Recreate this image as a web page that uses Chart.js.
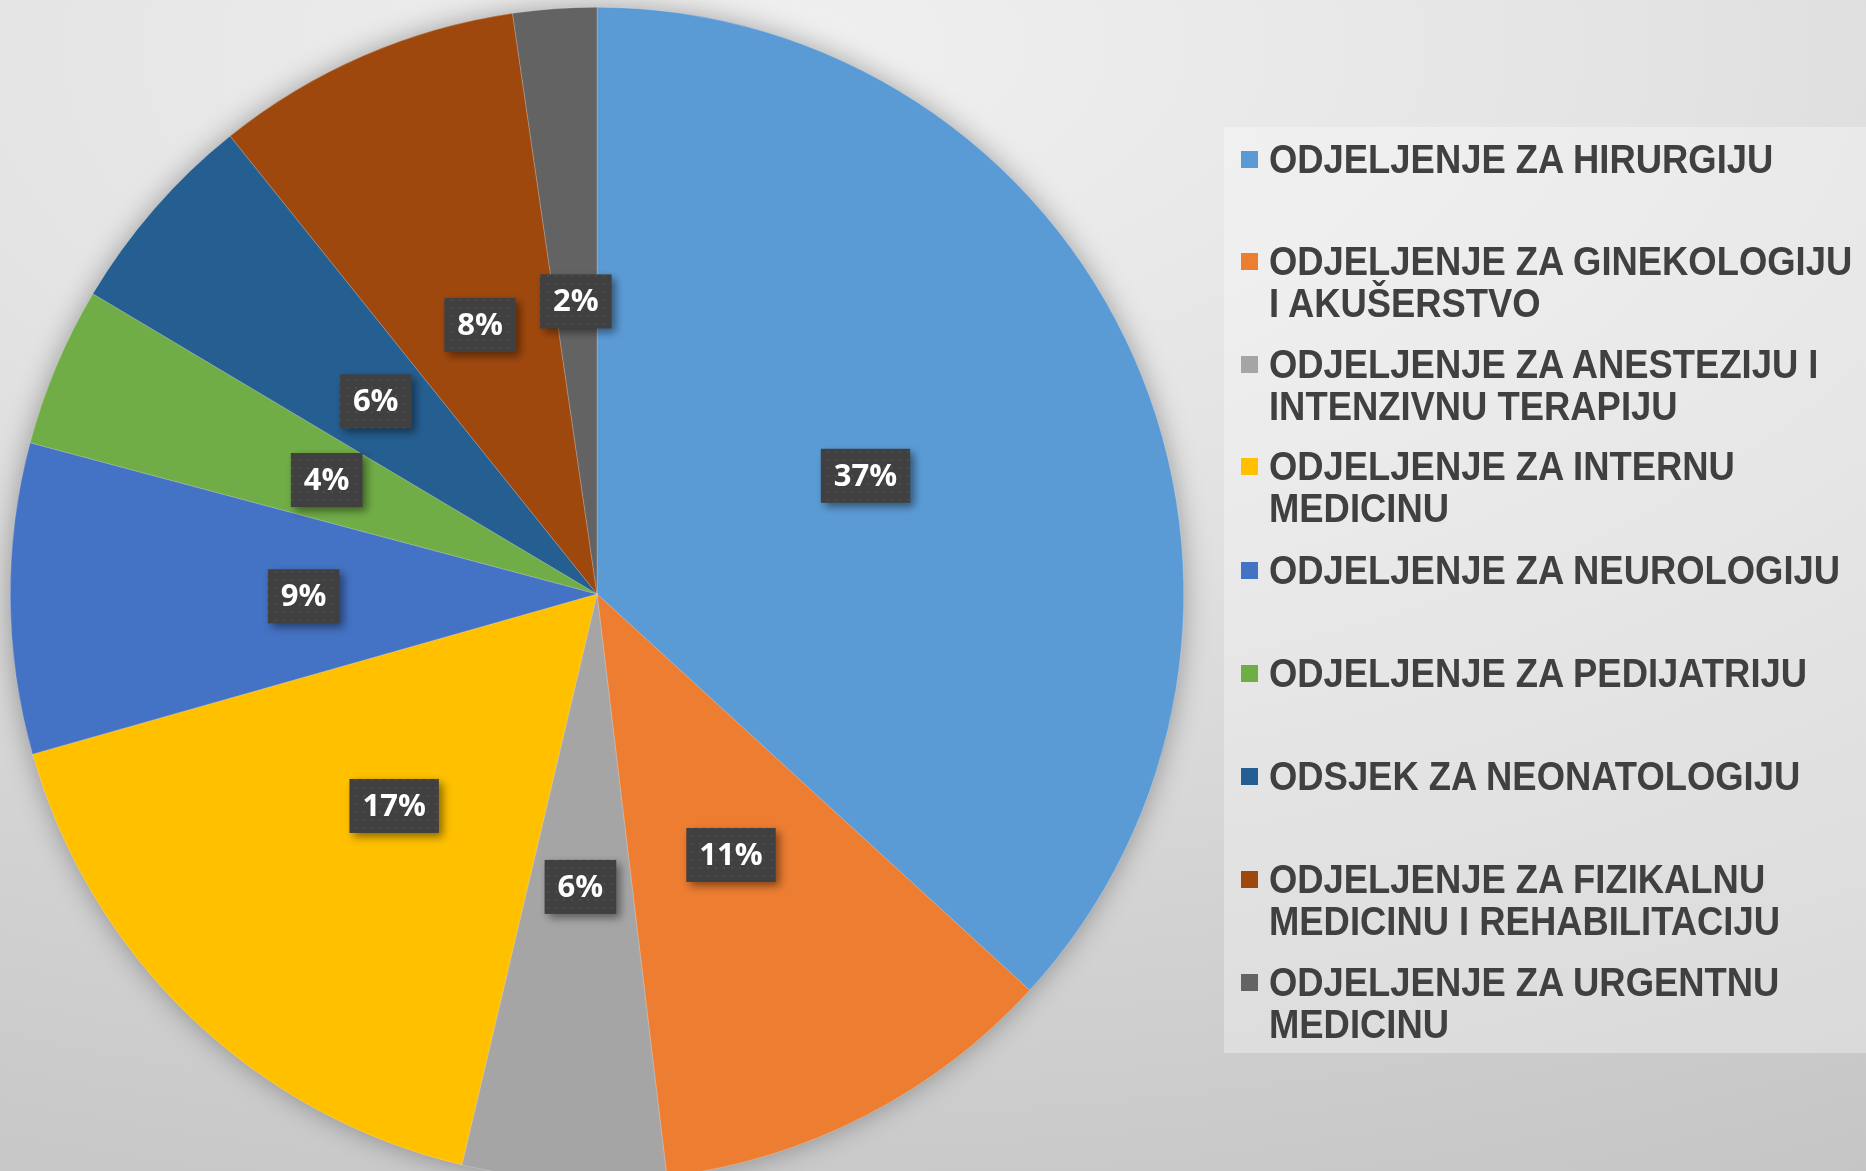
<!DOCTYPE html>
<html>
<head>
<meta charset="utf-8">
<script src="https://cdn.jsdelivr.net/npm/chart.js@4.4.1/dist/chart.umd.min.js"></script>
<style>
    html, body {
        margin: 0;
        padding: 0;
        width: 1866px;
        height: 1171px;
        overflow: hidden;
    }
    body {
        background: radial-gradient(ellipse 130% 110% at 42% 4%, #f0f0f0 0%, #e4e4e4 35%, #d2d2d2 70%, #c4c4c4 100%);
        position: relative;
    }
    #wrap {
        position: absolute;
        left: 0;
        top: 0;
        width: 1866px;
        height: 1190px;
    }
    #legendBox {
        position: absolute;
        left: 1224px;
        top: 127px;
        width: 642px;
        height: 926px;
        background: rgba(255, 255, 255, 0.32);
    }
    .item {
        position: absolute;
        left: 1241px;
        font-family: "Liberation Sans", Arial, sans-serif;
        font-weight: bold;
        font-size: 40px;
        line-height: 42px;
        color: #404040;
    }
    .item .box {
        position: absolute;
        left: 0;
        top: 13px;
        width: 17px;
        height: 17px;
    }
    .item .txt {
        position: absolute;
        left: 28px;
        top: 0;
        white-space: nowrap;
        transform: scaleX(0.91);
        transform-origin: left top;
    }
</style>
</head>
<body>
<div id="legendBox"></div>
<div id="wrap"><canvas id="pieChart" width="1866" height="1190"></canvas></div>
<div id="legend"></div>
<script>
// Chart data
const labels = [
    ['ODJELJENJE ZA HIRURGIJU'],
    ['ODJELJENJE ZA GINEKOLOGIJU', 'I AKUŠERSTVO'],
    ['ODJELJENJE ZA ANESTEZIJU I', 'INTENZIVNU TERAPIJU'],
    ['ODJELJENJE ZA INTERNU', 'MEDICINU'],
    ['ODJELJENJE ZA NEUROLOGIJU'],
    ['ODJELJENJE ZA PEDIJATRIJU'],
    ['ODSJEK ZA NEONATOLOGIJU'],
    ['ODJELJENJE ZA FIZIKALNU', 'MEDICINU I REHABILITACIJU'],
    ['ODJELJENJE ZA URGENTNU', 'MEDICINU']
];
const values = [36.8, 11.3, 5.6, 16.9, 8.55, 4.4, 5.7, 8.45, 2.3];
const colors = ['#5b9bd5', '#ed7d31', '#a5a5a5', '#ffc000', '#4472c4', '#70ad47', '#255e91', '#9e480e', '#636363'];

// Legend rows (first-line centre, px)
const legendRows = [159, 261, 364, 466, 570, 673, 776, 879, 982];

const legendEl = document.getElementById('legend');
labels.forEach((lines, i) => {
    const item = document.createElement('div');
    item.className = 'item';
    item.style.top = (legendRows[i] - 21) + 'px';
    const box = document.createElement('div');
    box.className = 'box';
    box.style.background = colors[i];
    const txt = document.createElement('div');
    txt.className = 'txt';
    txt.innerHTML = lines.join('<br>');
    item.appendChild(box);
    item.appendChild(txt);
    legendEl.appendChild(item);
});

// dotted texture for label boxes
function makePattern(ctx) {
    const c = document.createElement('canvas');
    c.width = 8;
    c.height = 8;
    const p = c.getContext('2d');
    p.fillStyle = '#404040';
    p.fillRect(0, 0, 8, 8);
    p.fillStyle = '#4c4c4c';
    p.fillRect(3, 3, 2, 2);
    return ctx.createPattern(c, 'repeat');
}

const pieShadow = {
    id: 'pieShadow',
    beforeDatasetsDraw(chart) {
        const arc = chart.getDatasetMeta(0).data[0];
        if (!arc) return;
        const ctx = chart.ctx;
        ctx.save();
        ctx.shadowColor = 'rgba(0, 0, 0, 0.35)';
        ctx.shadowBlur = 28;
        ctx.fillStyle = '#999';
        ctx.beginPath();
        ctx.arc(arc.x, arc.y, arc.outerRadius - 1, 0, Math.PI * 2);
        ctx.fill();
        ctx.restore();
    }
};

const pctLabels = {
    id: 'pctLabels',
    afterDatasetsDraw(chart) {
        const ctx = chart.ctx;
        const data = chart.data.datasets[0].data;
        const total = data.reduce((a, b) => a + b, 0);
        const pattern = makePattern(ctx);
        ctx.save();
        ctx.font = 'bold 31px "Open Sans", sans-serif';
        ctx.textAlign = 'center';
        ctx.textBaseline = 'middle';
        chart.getDatasetMeta(0).data.forEach((arc, i) => {
            const pos = arc.tooltipPosition();
            const text = Math.round(data[i] / total * 100) + '%';
            const w = ctx.measureText(text).width + 26;
            const h = 54;
            ctx.save();
            ctx.shadowColor = 'rgba(0, 0, 0, 0.45)';
            ctx.shadowBlur = 8;
            ctx.shadowOffsetX = 4;
            ctx.shadowOffsetY = 4;
            ctx.fillStyle = pattern;
            ctx.fillRect(pos.x - w / 2, pos.y - h / 2, w, h);
            ctx.restore();
            ctx.fillStyle = '#ffffff';
            ctx.fillText(text, pos.x, pos.y + 1);
        });
        ctx.restore();
    }
};

new Chart(document.getElementById('pieChart').getContext('2d'), {
    type: 'pie',
    data: {
        labels: labels.map(l => l.join(' ')),
        datasets: [{
            data: values,
            backgroundColor: colors,
            borderWidth: 0.5,
            borderColor: 'rgba(255, 255, 255, 0.4)'
        }]
    },
    options: {
        responsive: false,
        animation: false,
        layout: {
            padding: { left: 10, top: 7, right: 682, bottom: 9 }
        },
        plugins: {
            legend: { display: false },
            tooltip: { enabled: false }
        }
    },
    plugins: [pieShadow, pctLabels]
});
</script>
</body>
</html>
